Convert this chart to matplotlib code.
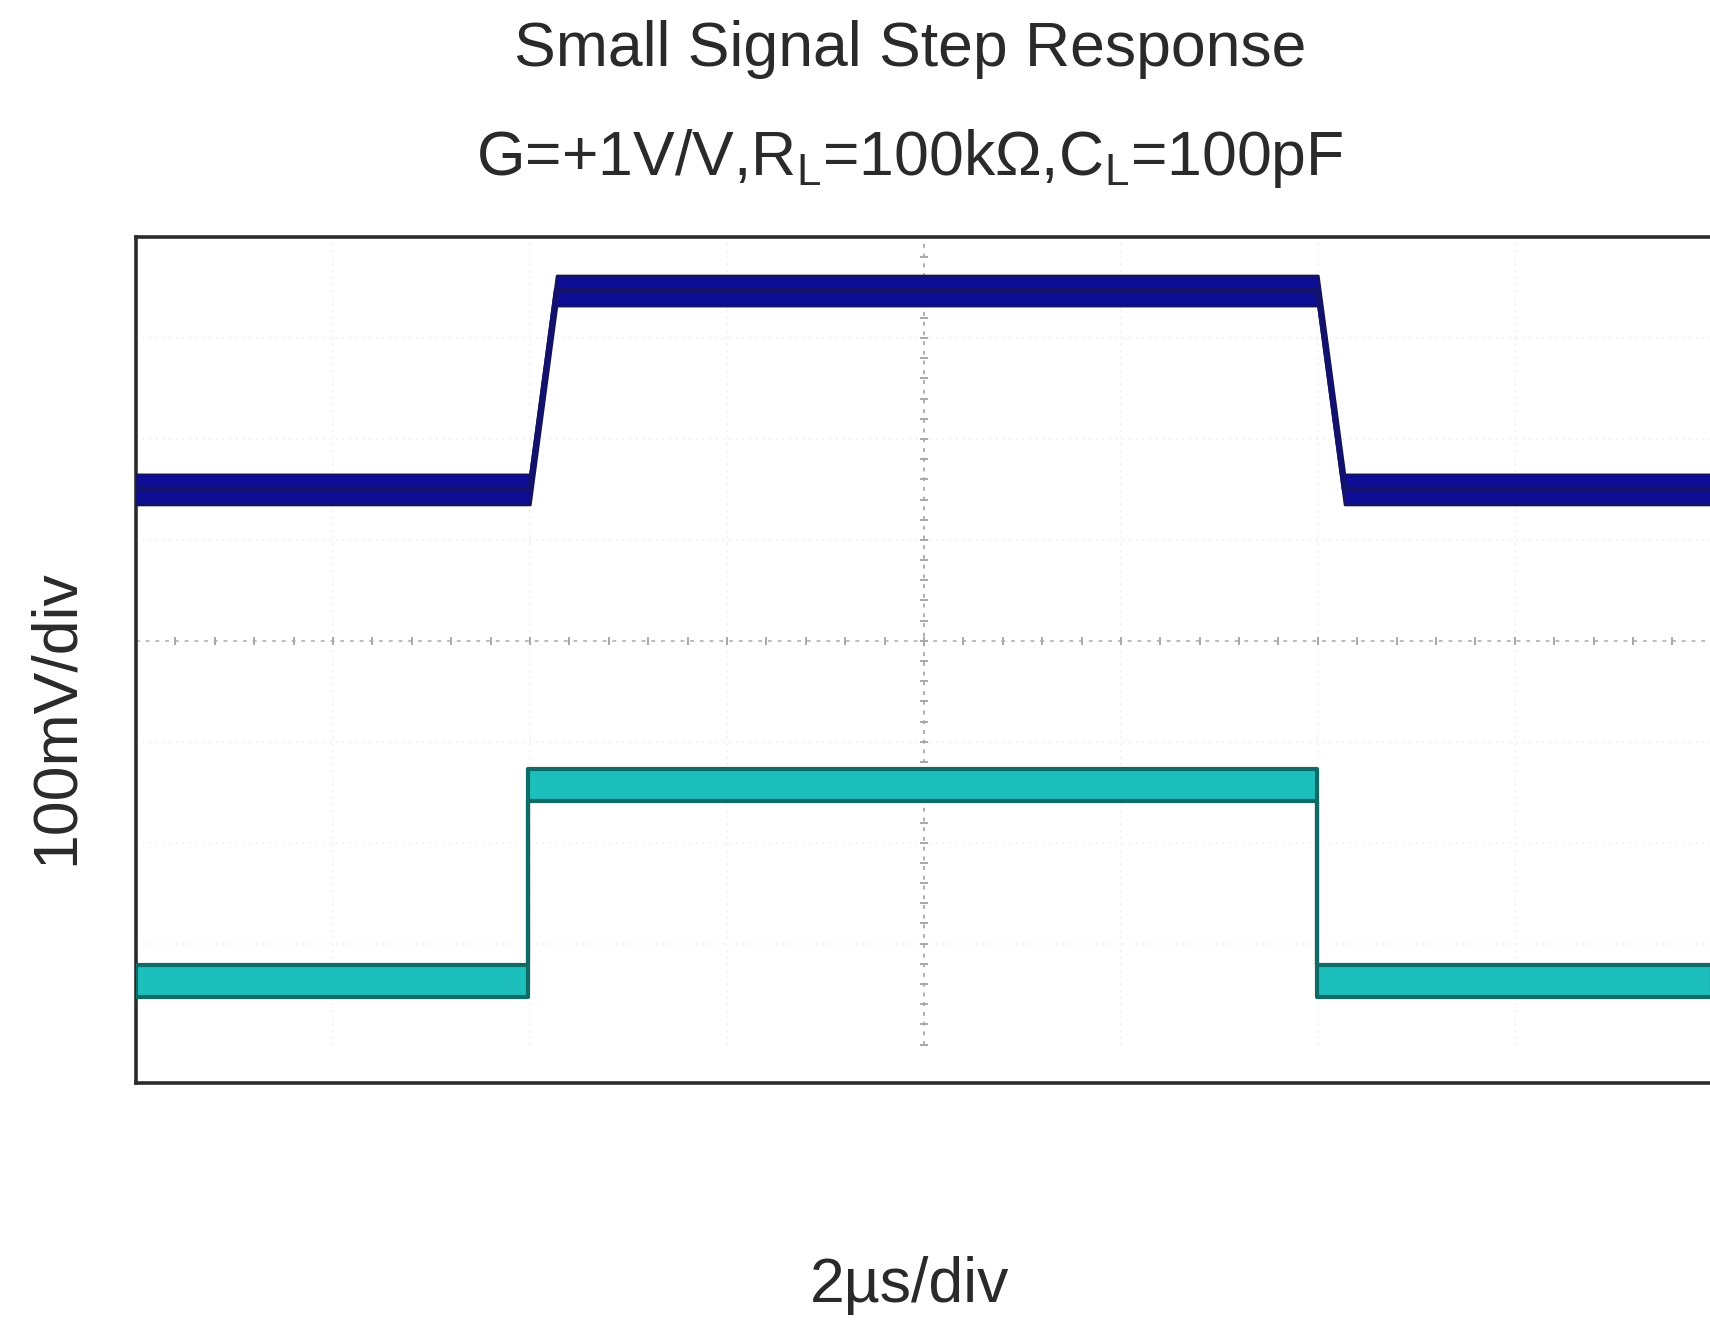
"""Small signal step response, scope capture redrawn with matplotlib."""

import matplotlib
matplotlib.use("Agg")
import matplotlib.pyplot as plt
import numpy as np

# ---------------------------------------------------------------------------
# Data (2 us/div, 100 mV/div, centre = 0)
# ---------------------------------------------------------------------------
out_time_us = [-8.0, -4.0, -3.73, 4.0, 4.27, 8.0]
out_mv = [150, 150, 347, 347, 150, 150]

in_time_us = [-8.0, -4.02, -4.02, 3.99, 3.99, 8.0]
in_mv = [-337, -337, -143, -143, -337, -337]

TITLE = "Small Signal Step Response"
SUBTITLE = r"G=+1V/V,R$_\mathregular{L}$=100kΩ,C$_\mathregular{L}$=100pF"
XLABEL = "2µs/div"
YLABEL = "100mV/div"

X_DIV = 2.0      # us per division
Y_DIV = 100.0    # mV per division
N_DIV = 4        # divisions each side of centre

plt.rcParams["font.family"] = ["Liberation Sans", "DejaVu Sans"]
plt.rcParams["mathtext.fontset"] = "custom"
plt.rcParams["mathtext.rm"] = "Liberation Sans"

fig = plt.figure(figsize=(17.1, 13.28), dpi=100)
ax = fig.add_axes([0.0795, 0.1845, 0.9216, 0.637])
ax.set_xlim(-N_DIV * X_DIV, N_DIV * X_DIV)
ax.set_ylim(-438, N_DIV * Y_DIV)

# graticule: faint division lines, dotted centre cross with minor marks
y_top = N_DIV * Y_DIV
for k in range(-N_DIV + 1, N_DIV):
    if k == 0:
        continue
    ax.vlines(k * X_DIV, -y_top, y_top, color="#eeeeee", lw=1.2,
              linestyles=(0, (1, 3)), zorder=1)
    ax.hlines(k * Y_DIV, -N_DIV * X_DIV, N_DIV * X_DIV, color="#eeeeee",
              lw=1.2, linestyles=(0, (1, 3)), zorder=1)
ax.vlines(0, -y_top, y_top, color="#b0b0b0", lw=1.4,
          linestyles=(0, (2, 3)), zorder=1)
ax.axhline(0, color="#bcbcbc", lw=1.4, ls=(0, (2, 3)), zorder=1)
x_minor = np.arange(-N_DIV * X_DIV, N_DIV * X_DIV + 1e-9, X_DIV / 5)
y_minor = np.arange(-y_top, y_top + 1e-9, Y_DIV / 5)
ax.plot(x_minor, np.zeros_like(x_minor), ls="none", marker="|", ms=6,
        mew=1.4, color="#a8a8a8", zorder=1)
ax.plot(np.zeros_like(y_minor), y_minor, ls="none", marker="_", ms=6,
        mew=1.4, color="#a8a8a8", zorder=1)

# traces: noise band drawn as a filled strip around each level
out_t = np.array(out_time_us)
out_v = np.array(out_mv, dtype=float)
in_t = np.array(in_time_us)
in_v = np.array(in_mv, dtype=float)

ax.fill_between(out_t, out_v - 15, out_v + 15, facecolor="#0c0c94",
                edgecolor="#14145e", lw=1.8, joinstyle="round", zorder=3)
ax.plot(out_t, out_v, color="#12126c", lw=4.0, solid_joinstyle="round",
        zorder=4)

ax.fill_between(in_t, in_v - 16, in_v + 16, facecolor="#1dbfbd",
                edgecolor="#106a66", lw=3.0, zorder=3)
ax.plot(in_t, in_v, color="#106a66", lw=2.2, zorder=2)

ax.set_xticks([])
ax.set_yticks([])
for side in ("left", "top", "bottom", "right"):
    ax.spines[side].set_linewidth(2.6)
    ax.spines[side].set_color("#2b2b2b")

fig.text(0.532, 0.963, TITLE, ha="center", va="center", fontsize=45,
         color="#2a2a2a")
fig.text(0.532, 0.881, SUBTITLE, ha="center", va="center", fontsize=45,
         color="#2a2a2a")
fig.text(0.532, 0.032, XLABEL, ha="center", va="center", fontsize=45,
         color="#2a2a2a")
fig.text(0.033, 0.46, YLABEL, ha="center", va="center", fontsize=45,
         rotation=90, color="#2a2a2a")

fig.savefig("out.png", dpi=100)
